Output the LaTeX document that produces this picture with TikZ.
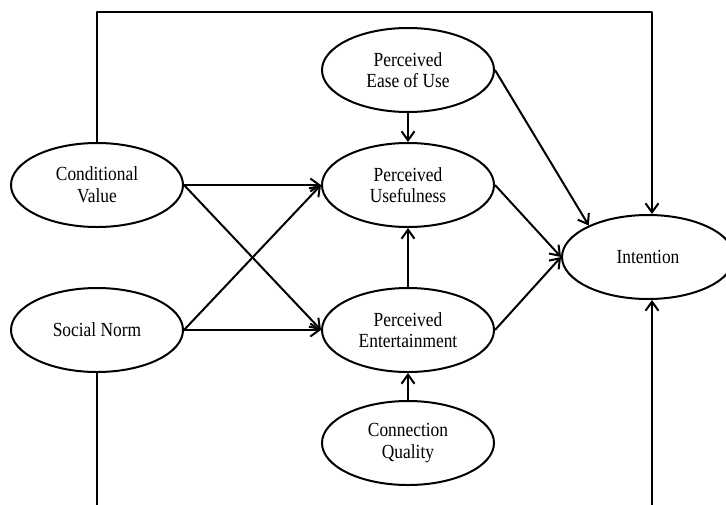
\documentclass[tikz,border=0pt]{standalone}
\usepackage{fontspec}
\setmainfont[FakeStretch=0.87]{Liberation Serif}
\usetikzlibrary{shapes.geometric,arrows.meta}
\tikzset{
	construct/.style={draw, ellipse, line width=1pt, minimum width=86pt, minimum height=42pt, inner sep=0pt, align=center}
}
\begin{document}
\begin{tikzpicture}[x=0.5pt, y=-0.5pt, line width=1pt, line join=round, >={Straight Barb[length=4.5pt,width=6.5pt]}, font=\fontsize{10}{10.8}\selectfont]
			\useasboundingbox (0,0) rectangle (726,504);
			\clip (0,0) rectangle (726,504);
			
			\node[construct] (cv) at (97,185) {Conditional\\Value};
			\node[construct] (sn) at (97,330) {Social Norm};
			\node[construct] (peou) at (408,70) {Perceived\\Ease of Use};
			\node[construct] (pu) at (408,185) {Perceived\\Usefulness};
			\node[construct] (pe) at (408,330) {Perceived\\Entertainment};
			\node[construct] (cq) at (408,443) {Connection\\Quality};
			\node[construct] (int) at (648,257) {Intention};
			
			\coordinate (topr) at (652,12);
			\coordinate (botl) at (97,520);
			\coordinate (botr) at (652,520);
			
			\draw[->] (cv.east) -- (pu.west);
			\draw[->] (cv.east) -- (pe.west);
			\draw[->] (sn.east) -- (pu.west);
			\draw[->] (sn.east) -- (pe.west);
			\draw[->] (peou) -- (pu);
			\draw[->] (pe) -- (pu);
			\draw[->] (cq) -- (pe);
			\draw[->] (peou.east) -- (int.152);
			\draw[->] (pu.east) -- (int.west);
			\draw[->] (pe.east) -- (int.west);
			
			\draw[->] (cv.north) |- (topr) -- (topr |- int.north);
			\draw (sn.south) -- (botl);
			\draw[->] (botr) -- (botr |- int.south);
			
		\end{tikzpicture}
\end{document}
